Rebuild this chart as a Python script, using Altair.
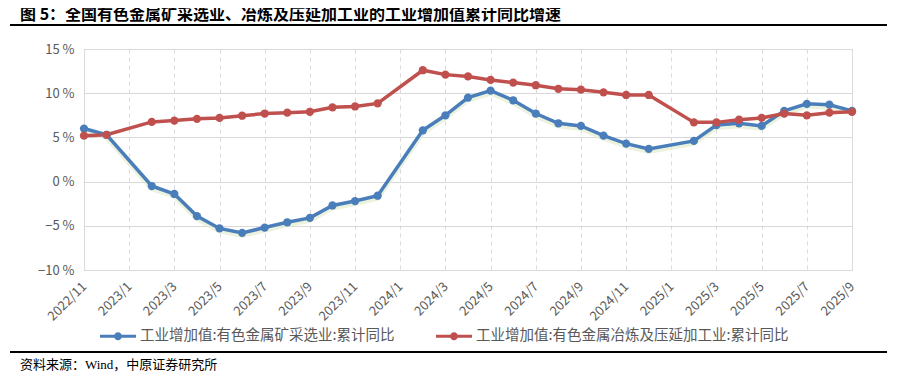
import altair as alt
import pandas as pd

months = []
y, m = 2022, 11
while (y, m) <= (2025, 9):
    months.append(f"{y}/{m}")
    m += 1
    if m > 12:
        y, m = y + 1, 1

series_names = ["工业增加值:有色金属矿采选业:累计同比", "工业增加值:有色金属冶炼及压延加工业:累计同比"]
blue_vals = [6.0, 5.3, None, -0.5, -1.4, -3.9, -5.3, -5.8, -5.2, -4.6, -4.1, -2.7, -2.2, -1.6, None,
             5.8, 7.5, 9.5, 10.3, 9.2, 7.7, 6.6, 6.3, 5.2, 4.3, 3.7, None,
             4.6, 6.4, 6.6, 6.3, 8.0, 8.8, 8.7, 8.0]
red_vals = [5.2, 5.3, None, 6.75, 6.9, 7.1, 7.2, 7.45, 7.7, 7.8, 7.9, 8.4, 8.5, 8.85, None,
            12.6, 12.1, 11.9, 11.5, 11.2, 10.9, 10.5, 10.4, 10.1, 9.8, 9.8, None,
            6.7, 6.7, 7.0, 7.2, 7.7, 7.5, 7.8, 7.9]
label_months = [mo for mo in months if int(mo.split("/")[1]) % 2 == 1]
y_ticks = [-10, -5, 0, 5, 10, 15]

title_text = "图 5：全国有色金属矿采选业、冶炼及压延加工业的工业增加值累计同比增速"
source_text = "资料来源：Wind，中原证券研究所"

rows = []
for name, vals in zip(series_names, [blue_vals, red_vals]):
    for i, (mo, v) in enumerate(zip(months, vals)):
        if v is not None:
            rows.append({"月份": mo, "系列": name, "值": v, "序": i})
df = pd.DataFrame(rows)

BLUE = "#4a7ebb"
RED = "#c0504d"
GREY_TXT = "#595959"
GRID = "#d9d9d9"
FONT = "Noto Sans CJK SC"

x_enc = alt.X("月份:O", sort=months,
              scale=alt.Scale(type="point", domain=months, padding=0),
              axis=alt.Axis(values=label_months, title=None, labelAngle=-45, labelAlign="right",
                            labelBaseline="middle", labelPadding=14, ticks=False, grid=True,
                            gridDash=[4, 4], gridColor=GRID, domain=True, domainColor=GRID,
                            labelColor=GREY_TXT, labelFontSize=13, labelFont=FONT))
y_enc = alt.Y("值:Q", scale=alt.Scale(domain=[-10, 15], nice=False),
              axis=alt.Axis(values=y_ticks, title=None, labelExpr="format(datum.value, 'd') + '  %'",
                            ticks=False, grid=True, gridColor=GRID, domainColor=GRID,
                            labelColor=GREY_TXT, labelFontSize=13, labelPadding=10, labelFont=FONT))
color_scale = alt.Scale(domain=series_names, range=[BLUE, RED])

legend_symbol = ("M-1,-0.085 L1,-0.085 L1,0.085 L-1,0.085 Z "
                 "M-0.22,0 A0.22,0.22 0 1,1 0.22,0 A0.22,0.22 0 1,1 -0.22,0 Z")
legend = alt.Legend(orient="none", direction="horizontal", legendX=16, legendY=269, padding=0,
                    title=None, symbolType=legend_symbol, symbolSize=1296,
                    symbolStrokeWidth=0, symbolOpacity=1, labelFontSize=14.5, labelColor=GREY_TXT,
                    labelFont=FONT, labelOffset=4, columnPadding=41, labelLimit=400)
color_enc = alt.Color("系列:N", scale=color_scale, legend=legend)

base = alt.Chart(df)

shadow = base.transform_filter(alt.datum["系列"] == series_names[0]).mark_line(
    strokeWidth=5, color="#e3ecd0", opacity=0.7, yOffset=2.5
).encode(x=x_enc, y=y_enc, order="序:Q")

lines = base.mark_line(strokeWidth=3.5).encode(
    x=x_enc, y=y_enc, order="序:Q", color=color_enc, detail="系列:N",
)

points = base.mark_circle(size=68, opacity=1).encode(
    x=x_enc, y=y_enc, color=color_enc,
)

one = pd.DataFrame({"k": [0]})
deco = alt.Chart(one)
title_mark = deco.mark_text(text=title_text, align="left", baseline="middle", fontSize=16,
                            fontWeight="bold", font=FONT, color="#000000").encode(
    x=alt.value(-64), y=alt.value(-34))
title_rule = deco.mark_rule(color="#000000", strokeWidth=2).encode(
    x=alt.value(-74), x2=alt.value(804), y=alt.value(-24))
foot_rule = deco.mark_rule(color="#000000", strokeWidth=2).encode(
    x=alt.value(-74), x2=alt.value(804), y=alt.value(303))
foot_mark = deco.mark_text(text=source_text, align="left", baseline="middle", fontSize=13,
                           font="Liberation Serif, Noto Sans CJK SC", color="#000000").encode(
    x=alt.value(-64), y=alt.value(316))

chart = alt.layer(shadow, lines, points, title_mark, title_rule, foot_rule, foot_mark).properties(
    width=768, height=221,
    autosize=alt.AutoSizeParams(type="none"),
    padding={"left": 76, "top": 41, "right": 35, "bottom": 106},
).configure_view(stroke=GRID, strokeWidth=1).configure(background="white")

chart.save("out.html", embed_options={"renderer": "svg", "actions": False})
